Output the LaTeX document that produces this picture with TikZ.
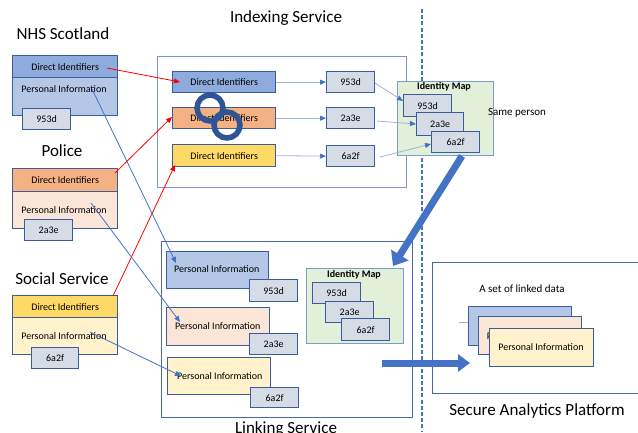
\documentclass[tikz,border=0pt]{standalone}
\usepackage{fontspec}
\setmainfont{Carlito}
\usetikzlibrary{arrows.meta}
\definecolor{blueH}{HTML}{8FAADC}
\definecolor{blueL}{HTML}{B4C7E7}
\definecolor{orangeH}{HTML}{F4B183}
\definecolor{orangeL}{HTML}{FBE5D6}
\definecolor{yellowH}{HTML}{FFD966}
\definecolor{yellowL}{HTML}{FFF2CC}
\definecolor{tagF}{HTML}{D6DCE5}
\definecolor{greenL}{HTML}{E2F0D9}
\definecolor{cardB}{HTML}{3A5D9C}
\definecolor{contB}{HTML}{7F97C8}
\definecolor{contD}{HTML}{4A68A6}
\definecolor{mapB}{HTML}{7A9CCB}
\definecolor{arrB}{HTML}{4472C4}
\definecolor{arrL}{HTML}{9DB3DE}
\definecolor{linkB}{HTML}{2F5597}
\begin{document}
\begin{tikzpicture}[x=1pt,y=-1pt,
  title/.style={font=\fontsize{17}{20}\selectfont, inner sep=0pt},
  small/.style={font=\fontsize{10}{12}\selectfont, inner sep=0pt},
  card/.style={draw=cardB, line width=1.3pt, rectangle, inner sep=0pt, anchor=north west, font=\fontsize{10}{12}\selectfont},
  tagbox/.style={card, fill=tagF, minimum width=48pt, minimum height=21pt},
  container/.style={draw=contD, line width=1.1pt, rectangle, inner sep=0pt, anchor=north west},
  mapbox/.style={draw=mapB, fill=greenL, line width=1.1pt, rectangle, inner sep=0pt, anchor=north west},
  redarr/.style={red, line width=0.8pt, -{Triangle[length=6pt,width=5pt]}},
  bluearr/.style={arrB, line width=0.8pt, -{Triangle[length=6pt,width=5pt]}},
  lightarr/.style={arrL, line width=0.8pt, -{Triangle[length=6pt,width=5pt,color=arrB,fill=arrB]}},
  bigarr/.style={arrB, line width=7pt, -{Triangle[length=13pt,width=20pt]}},
  linkring/.style={draw=linkB, line width=5.5pt}
]
\clip (0,0) rectangle (638,432);
\fill[white] (0,0) rectangle (638,432);

% dashed divider
\coordinate (dtop) at (422,9);
\coordinate (dbot) at (422,432);
\draw[arrB, line width=2.2pt, dash pattern=on 4pt off 2.2pt] (dtop) -- (dbot);

% ---------- sources ----------
\node[title] (tnhs) at (63,34) {NHS Scotland};
\node[card, fill=blueL, minimum width=105pt, minimum height=38pt] (nhspi) at (12,77) {};
\node[card, fill=blueH, minimum width=105pt, minimum height=22pt] (nhsdi) at (12,55) {Direct Identifiers};
\node[small] (nhspit) at (64,89) {Personal Information};
\node[tagbox] (nhstag) at (22,108) {953d};

\node[title] (tpol) at (62,151) {Police};
\node[card, fill=orangeL, minimum width=105pt, minimum height=37pt] (polpi) at (12,191) {};
\node[card, fill=orangeH, minimum width=105pt, minimum height=23pt] (poldi) at (12,168) {Direct Identifiers};
\node[small] (polpit) at (64,210) {Personal Information};
\node[tagbox] (poltag) at (24,219) {2a3e};

\node[title] (tsoc) at (62,279) {Social Service};
\node[card, fill=yellowL, minimum width=105pt, minimum height=37pt] (socpi) at (12,317) {};
\node[card, fill=yellowH, minimum width=105pt, minimum height=22pt] (socdi) at (12,295) {Direct Identifiers};
\node[small] (socpit) at (64,336) {Personal Information};
\node[tagbox, minimum width=47pt] (soctag) at (31,347) {6a2f};

% ---------- indexing service ----------
\node[title] (tidx) at (286,18) {Indexing Service};
\node[container, draw=contB, minimum width=249pt, minimum height=131pt] (idx) at (157,56) {};
\node[card, fill=blueH, minimum width=103pt, minimum height=21pt] (idi1) at (172,71) {Direct Identifiers};
\node[card, fill=orangeH, minimum width=103pt, minimum height=21pt] (idi2) at (172,107) {Direct Identifiers};
\node[card, fill=yellowH, minimum width=103pt, minimum height=22pt] (idi3) at (172,144) {Direct Identifiers};
\node[tagbox] (ih1) at (326,71) {953d};
\node[tagbox] (ih2) at (326,107) {2a3e};
\node[tagbox] (ih3) at (326,145) {6a2f};
\draw[linkring] (210,108) circle (13pt);
\draw[linkring] (227,125) circle (13pt);

\draw[lightarr] (idi1.east) -- (ih1.west);
\draw[lightarr] (idi2.east) -- (ih2.west);
\draw[lightarr] (idi3.east) -- (ih3.west);

% identity map (top)
\node[mapbox, minimum width=96pt, minimum height=74pt] (map1) at (397,81) {};
\node[small, font=\fontsize{10}{12}\selectfont\bfseries] (map1t) at (444,87) {Identity Map};
\node[tagbox, minimum height=22pt] (m1a) at (403,94) {953d};
\node[tagbox, minimum width=47pt, minimum height=23pt] (m1b) at (416,112) {2a3e};
\node[tagbox] (m1c) at (431,131) {6a2f};
\node[font=\fontsize{11}{13}\selectfont, inner sep=0pt] (same) at (517,113) {Same person};

\coordinate (h1s) at (375,83);
\coordinate (h1e) at (403,101);
\coordinate (h2s) at (377,121);
\coordinate (h2e) at (416,124);
\coordinate (h3s) at (380,157);
\coordinate (h3e) at (431,144);
\draw[lightarr] (h1s) -- (h1e);
\draw[lightarr] (h2s) -- (h2e);
\draw[lightarr] (h3s) -- (h3e);

% ---------- linking service ----------
\node[container, minimum width=251pt, minimum height=176pt] (lnk) at (161,241) {};
\node[title] (tlnk) at (286,429) {Linking Service};
\node[card, fill=blueL, minimum width=102pt, minimum height=37pt] (lp1) at (166,251) {};
\node[small, anchor=west] (lp1t) at (174,269) {Personal Information};
\node[tagbox, minimum height=22pt] (lt1) at (249,279) {953d};
\node[card, fill=orangeL, minimum width=103pt, minimum height=38pt] (lp2) at (166,307) {};
\node[small, anchor=west] (lp2t) at (175,326) {Personal Information};
\node[tagbox] (lt2) at (249,333) {2a3e};
\node[card, fill=yellowL, minimum width=103pt, minimum height=37pt] (lp3) at (167,357) {};
\node[small, anchor=west] (lp3t) at (177,376) {Personal Information};
\node[tagbox, minimum height=20pt] (lt3) at (250,387) {6a2f};

\node[mapbox, minimum width=97pt, minimum height=75pt] (map2) at (306,268) {};
\node[small, font=\fontsize{10}{12}\selectfont\bfseries] (map2t) at (354,275) {Identity Map};
\node[tagbox] (m2a) at (312,282) {953d};
\node[tagbox] (m2b) at (325,301) {2a3e};
\node[tagbox, minimum height=22pt] (m2c) at (341,318) {6a2f};

% ---------- secure analytics platform ----------
\node[container, minimum width=230pt, minimum height=131pt] (sap) at (432,262) {};
\node[title] (tsap) at (537,411) {Secure Analytics Platform};
\node[font=\fontsize{11}{13}\selectfont, inner sep=0pt] (setl) at (522,289) {A set of linked data};
\coordinate (stub) at (459,322);
\node[card, fill=blueL, minimum width=103pt, minimum height=39pt] (sc1) at (468,306) {};
\draw[arrL, line width=0.8pt] (stub) -- (sc1.west |- stub);
\node[card, fill=orangeL, minimum width=103pt, minimum height=38pt] (sc2) at (478,316) {};
\node[small] (sc2t) at (529.5,336) {Personal Information};
\node[card, fill=yellowL, minimum width=104pt, minimum height=38pt] (sc3) at (489,328) {};
\node[small] (sc3t) at (541,347) {Personal Information};

% ---------- connectors ----------
\coordinate (r1s) at (107,68);
\coordinate (r1e) at (180,82);
\coordinate (r2s) at (115,173);
\coordinate (r2e) at (172,117);
\coordinate (r3s) at (113,296);
\coordinate (r3e) at (175,165);
\draw[redarr] (r1s) -- (r1e);
\draw[redarr] (r2s) -- (r2e);
\draw[redarr] (r3s) -- (r3e);

\coordinate (b1s) at (92,89);
\coordinate (b1e) at (176,263);
\coordinate (b2s) at (91,203);
\coordinate (b2e) at (180,322);
\coordinate (b3s) at (90,332);
\coordinate (b3e) at (181,376);
\draw[bluearr] (b1s) -- (b1e);
\draw[bluearr] (b2s) -- (b2e);
\draw[bluearr] (b3s) -- (b3e);

% big arrows
\coordinate (g1s) at (462,156);
\coordinate (g1e) at (393,266);
\draw[bigarr] (g1s) -- (g1e);
\coordinate (g2s) at (382,363);
\coordinate (g2e) at (470,363);
\draw[bigarr, -{Triangle[length=12pt,width=17pt]}] (g2s) -- (g2e);
\end{tikzpicture}
\end{document}
